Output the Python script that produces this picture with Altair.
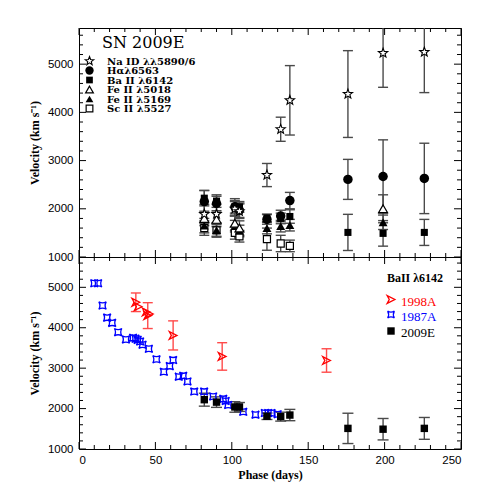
import altair as alt
import pandas as pd

# ---------------- data ----------------
# Top panel: SN 2009E line velocities (km/s) vs phase (days)
na_day = [82, 90, 102, 105, 123, 132, 138, 176, 199, 226]
na_vel = [1890, 1890, 2000, 1950, 2700, 3650, 4250, 4380, 5230, 5250]
na_err = [200, 200, 150, 150, 240, 250, 720, 900, 710, 840]

ha_day = [82, 90, 102, 105, 123, 132, 138, 176, 199, 226]
ha_vel = [2150, 2110, 2040, 1970, 1780, 1850, 2170, 2610, 2670, 2630]
ha_err = [230, 150, 170, 150, 100, 120, 170, 415, 760, 730]

ba_day = [82, 90, 102, 105, 123, 132, 138, 176, 199, 226]
ba_vel = [2220, 2160, 2040, 2040, 1810, 1800, 1840, 1510, 1490, 1510]
ba_err = [160, 130, 130, 110, 80, 110, 140, 375, 265, 270]

fe18_day = [82, 90, 102, 105, 199]
fe18_vel = [1800, 1780, 1700, 1600, 2000]
fe18_err = [150, 150, 150, 150, 290]

fe69_day = [82, 90, 102, 105, 123, 132, 138, 199]
fe69_vel = [1650, 1560, 1640, 1540, 1600, 1640, 1660, 1720]
fe69_err = [150, 150, 120, 120, 120, 120, 120, 150]

sc_day = [82, 90, 102, 105, 123, 132, 138]
sc_vel = [1600, 1550, 1500, 1430, 1370, 1280, 1230]
sc_err = [150, 120, 130, 120, 230, 170, 120]

# Bottom panel: Ba II 6142 comparison
sn87_day = [10, 12.5, 15.4, 18.4, 21.7, 25.6, 30.7, 35.4, 37, 38.4, 40, 41.6, 45.7,
             50.7, 55.5, 59.4, 61.6, 65.3, 68.2, 71, 75.4, 81.9, 87.8, 94.4, 96,
             97.6, 107.5, 115.5, 121.6, 123.8, 126, 130]
sn87_vel = [5100, 5100, 4550, 4250, 4120, 3890, 3710, 3750, 3730, 3700, 3660, 3580, 3480,
            3220, 2910, 3050, 3200, 2790, 2810, 2670, 2420, 2420, 2300, 2240, 2190,
            2090, 1920, 1850, 1890, 1890, 1890, 1860]

sn98_day = [37.2, 38.7, 44, 45, 46, 61.6, 93.7, 162]
sn98_vel = [4630, 4520, 4390, 4300, 4340, 3810, 3290, 3190]
sn98_err = [230, 0, 0, 320, 0, 360, 340, 290]

# axis ticks
x_labels = [0, 50, 100, 150, 200, 250]
x_minor = [v for v in range(10, 250, 10) if v % 50 != 0]
y_labels = [1000, 2000, 3000, 4000, 5000]
y_minor = [v for v in range(1200, 5750, 200) if v % 1000 != 0]

legend_top = ["Na ID λλ5890/6", "Hαλ6563", "Ba II λ6142", "Fe II λ5018", "Fe II λ5169", "Sc II λ5527"]
legend_bot = ["1998A", "1987A", "2009E"]

# ---------------- styling ----------------
W = 382
H_TOP = 229
H_BOT = 192
XS = alt.Scale(domain=[0, 250], nice=False, zero=False)
YS = alt.Scale(domain=[1000, 5750], nice=False, zero=False)
ECOL = "#4a4a4a"

STAR = ("M0,-1 L0.247,-0.34 L0.951,-0.309 L0.399,0.13 L0.588,0.809 L0,0.42 "
        "L-0.588,0.809 L-0.399,0.13 L-0.951,-0.309 L-0.247,-0.34 Z")
CONCAVE = "M-1,-1 Q0,-0.4 1,-1 Q0.4,0 1,1 Q0,0.4 -1,1 Q-0.4,0 -1,-1 Z"
NOTCH = "M-1,-1 L1,0 L-1,1 L-0.45,0 Z"

YAX = alt.Axis(values=y_labels, format="d", title="Velocity (km s⁻¹)", labelPadding=6, titlePadding=6)
XAX_BOT = alt.Axis(values=x_labels, format="d", title="Phase (days)", labelPadding=5, titlePadding=4)


def enc_x(xax):
    return alt.X("d:Q", scale=XS, axis=xax, title=None if xax is None else "Phase (days)")


def errbars(days, vels, errs, xax, color, cap=10):
    df = pd.DataFrame({"d": days, "v": vels, "e": errs})
    base = alt.Chart(df).transform_filter("datum.e > 0").transform_calculate(
        lo="datum.v - datum.e", hi="datum.v + datum.e")
    x = enc_x(xax)
    rule = base.mark_rule(color=color, strokeWidth=1.4, clip=True).encode(
        x=x, y=alt.Y("lo:Q", scale=YS, axis=YAX), y2="hi:Q")
    lo = base.mark_tick(orient="horizontal", color=color, size=cap, thickness=1.4,
                        clip=True, opacity=1).encode(x=x, y=alt.Y("lo:Q", scale=YS, axis=YAX))
    hi = base.mark_tick(orient="horizontal", color=color, size=cap, thickness=1.4,
                        clip=True, opacity=1).encode(x=x, y=alt.Y("hi:Q", scale=YS, axis=YAX))
    return [rule, lo, hi]


def pts(days, vels, xax, **mk):
    df = pd.DataFrame({"d": days, "v": vels})
    return alt.Chart(df).mark_point(opacity=1, clip=True, **mk).encode(
        x=enc_x(xax), y=alt.Y("v:Q", scale=YS, axis=YAX))


def frame_ticks(h, xax):
    layers = []
    for vals, L in ((x_labels, 7), (x_minor, 4)):
        df = pd.DataFrame({"d": vals})
        layers.append(alt.Chart(df).mark_rule(color="black", strokeWidth=1).encode(
            x=enc_x(xax), y=alt.value(h), y2=alt.value(h - L)))
        layers.append(alt.Chart(df).mark_rule(color="black", strokeWidth=1).encode(
            x=enc_x(xax), y=alt.value(0), y2=alt.value(L)))
    for vals, L in ((y_labels, 7), (y_minor, 4)):
        df = pd.DataFrame({"v": vals})
        layers.append(alt.Chart(df).mark_rule(color="black", strokeWidth=1).encode(
            y=alt.Y("v:Q", scale=YS, axis=YAX), x=alt.value(0), x2=alt.value(L)))
        layers.append(alt.Chart(df).mark_rule(color="black", strokeWidth=1).encode(
            y=alt.Y("v:Q", scale=YS, axis=YAX), x=alt.value(W), x2=alt.value(W - L)))
    return layers


def txt(s, x, y, size=12, color="black", font="Liberation Serif", weight="bold", align="left"):
    return alt.Chart(pd.DataFrame({"t": [s]})).mark_text(
        align=align, baseline="middle", fontSize=size, font=font, fontWeight=weight, color=color
    ).encode(text="t:N", x=alt.value(x), y=alt.value(y))


def sym(x, y, **mk):
    return alt.Chart(pd.DataFrame({"t": [0]})).mark_point(opacity=1, **mk).encode(
        x=alt.value(x), y=alt.value(y))


# ---------------- top panel ----------------
top_layers = frame_ticks(H_TOP, None)
for d, v, e in ((sc_day, sc_vel, sc_err), (fe69_day, fe69_vel, fe69_err),
                (fe18_day, fe18_vel, fe18_err), (ba_day, ba_vel, ba_err),
                (ha_day, ha_vel, ha_err), (na_day, na_vel, na_err)):
    top_layers += errbars(d, v, e, None, ECOL)

top_styles = [
    dict(shape=STAR, filled=False, fill="white", stroke="black", strokeWidth=1.1, size=95),
    dict(shape="circle", filled=True, color="black", size=90),
    dict(shape="square", filled=True, color="black", size=50),
    dict(shape="triangle-up", filled=False, fill="white", stroke="black", strokeWidth=1.2, size=80),
    dict(shape="triangle-up", filled=True, color="black", size=80),
    dict(shape="square", filled=False, fill="white", stroke="black", strokeWidth=1.2, size=50),
]
series_top = [(na_day, na_vel), (ha_day, ha_vel), (ba_day, ba_vel),
              (fe18_day, fe18_vel), (fe69_day, fe69_vel), (sc_day, sc_vel)]
order = [5, 4, 3, 2, 1, 0]
for i in order:
    d, v = series_top[i]
    top_layers.append(pts(d, v, None, **top_styles[i]))

top_layers.append(txt("SN 2009E", 23, 15, size=16, font="DejaVu Serif", weight="normal"))
row_y = [33, 42.5, 52, 61.5, 71, 80.5]
legend_sizes = [80, 70, 45, 60, 60, 45]
for i, lab in enumerate(legend_top):
    st = dict(top_styles[i])
    st["size"] = legend_sizes[i]
    top_layers.append(sym(10.5, row_y[i], **st))
    top_layers.append(txt(lab, 28, row_y[i] + 0.5, size=10, font="DejaVu Serif"))

top = alt.layer(*top_layers).properties(width=W, height=H_TOP)

# ---------------- bottom panel ----------------
bot_layers = frame_ticks(H_BOT, XAX_BOT)
bot_layers += errbars(sn98_day, sn98_vel, sn98_err, XAX_BOT, "#ff4a4a")
bot_layers += errbars(ba_day, ba_vel, ba_err, XAX_BOT, ECOL, cap=11)
bot_layers.append(pts(sn87_day, sn87_vel, XAX_BOT, shape=CONCAVE, filled=False,
                      fill="transparent", stroke="#0000ff", strokeWidth=1.3, size=55))
bot_layers.append(pts(sn98_day, sn98_vel, XAX_BOT, shape=NOTCH, filled=False,
                      fill="transparent", stroke="#ff0000", strokeWidth=1.3, size=60))
bot_layers.append(pts(ba_day, ba_vel, XAX_BOT, shape="square", filled=True, color="black", size=55))

bot_layers.append(txt("BaII λ6142", 336, 21, size=12, align="center"))
bot_sym = [
    dict(shape=NOTCH, filled=False, fill="transparent", stroke="#ff0000", strokeWidth=1.3, size=60),
    dict(shape=CONCAVE, filled=False, fill="transparent", stroke="#0000ff", strokeWidth=1.3, size=45),
    dict(shape="square", filled=True, color="black", size=55),
]
bot_col = ["#ff0000", "#0000ff", "black"]
bot_rows = [42.5, 57.5, 74]
for i, lab in enumerate(legend_bot):
    bot_layers.append(sym(312, bot_rows[i], **bot_sym[i]))
    bot_layers.append(txt(lab, 322, bot_rows[i] + 2, size=13, color=bot_col[i], weight="normal"))

bottom = alt.layer(*bot_layers).properties(width=W, height=H_BOT)

chart = alt.vconcat(top, bottom, spacing=0, bounds="flush").resolve_scale(
    x="independent", y="independent"
).properties(
    padding={"left": 19, "top": 19, "right": 5, "bottom": 5}
).configure_view(
    stroke="black", strokeWidth=1
).configure_axis(
    grid=False, domain=False, ticks=False, tickSize=0,
    labelFont="Liberation Sans", labelFontSize=11.5, labelColor="black",
    titleFont="Liberation Serif", titleFontSize=12, titleFontWeight="bold", titleColor="black"
)

chart.save("out.html", embed_options={"renderer": "svg", "actions": False})
